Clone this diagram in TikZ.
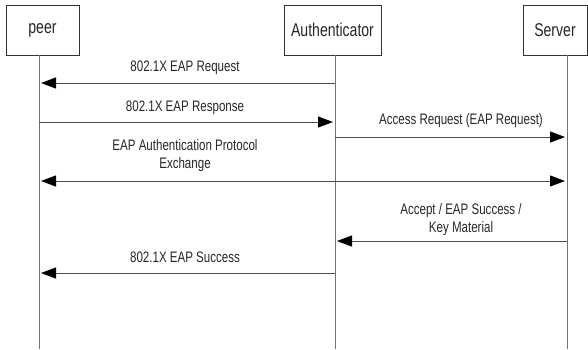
\documentclass[tikz,border=0pt]{standalone}
\usepackage{fontspec}
\setmainfont{Liberation Sans}[FakeStretch=0.76]
\usetikzlibrary{arrows.meta}

\tikzset{
  actor/.style={draw=black!80,line width=1pt,minimum height=50pt,inner sep=0pt,
    text=black!85,font=\fontsize{18.5}{20}\selectfont},
  life/.style={draw=black!55,line width=1pt},
  msg/.style={draw=black!70,line width=1pt,shorten >=2pt,
    -{Triangle[length=15pt,width=11pt,color=black]}},
  xchg/.style={draw=black!70,line width=1pt,shorten >=2pt,shorten <=2pt,
    {Triangle[length=15pt,width=11pt,color=black]}-{Triangle[length=15pt,width=11pt,color=black]}},
  lbl/.style={anchor=base,align=center,inner sep=0pt,text=black!85,
    font=\fontsize{15.2}{18}\selectfont}
}

\begin{document}
\begin{tikzpicture}[x=1pt,y=-1pt]
\useasboundingbox (0,0) rectangle (588,349);
% parties
\node[actor,minimum width=73pt] (peer) at (42.5,30) {peer};
\node[actor,minimum width=97pt] (auth) at (332.5,30) {Authenticator};
\node[actor,minimum width=64pt] (server) at (555,30) {Server};
\coordinate (peerL) at (39,55);
\coordinate (authL) at (335,55);
\coordinate (serverL) at (567,55);
\draw[life] (peerL) -- (peerL |- 0,349);
\draw[life] (authL) -- (authL |- 0,349);
\draw[life] (serverL) -- (serverL |- 0,349);
% messages
\draw[msg] (authL |- 0,83) -- (peerL |- 0,83);
\node[lbl] (req) at (185,71) {802.1X EAP Request};
\draw[msg] (peerL |- 0,122) -- (authL |- 0,122);
\node[lbl] (resp) at (185,111) {802.1X EAP Response};
\draw[msg] (authL |- 0,137) -- (serverL |- 0,137);
\node[lbl] (acc) at (461,124) {Access Request (EAP Request)};
\draw[xchg] (peerL |- 0,181) -- (serverL |- 0,181);
\node[lbl] (exch) at (185,168) {EAP Authentication Protocol\\Exchange};
\draw[msg] (serverL |- 0,241) -- (authL |- 0,241);
\node[lbl] (keys) at (461,232) {Accept / EAP Success /\\Key Material};
\draw[msg] (authL |- 0,273) -- (peerL |- 0,273);
\node[lbl] (succ) at (185,262) {802.1X EAP Success};
\end{tikzpicture}
\end{document}
